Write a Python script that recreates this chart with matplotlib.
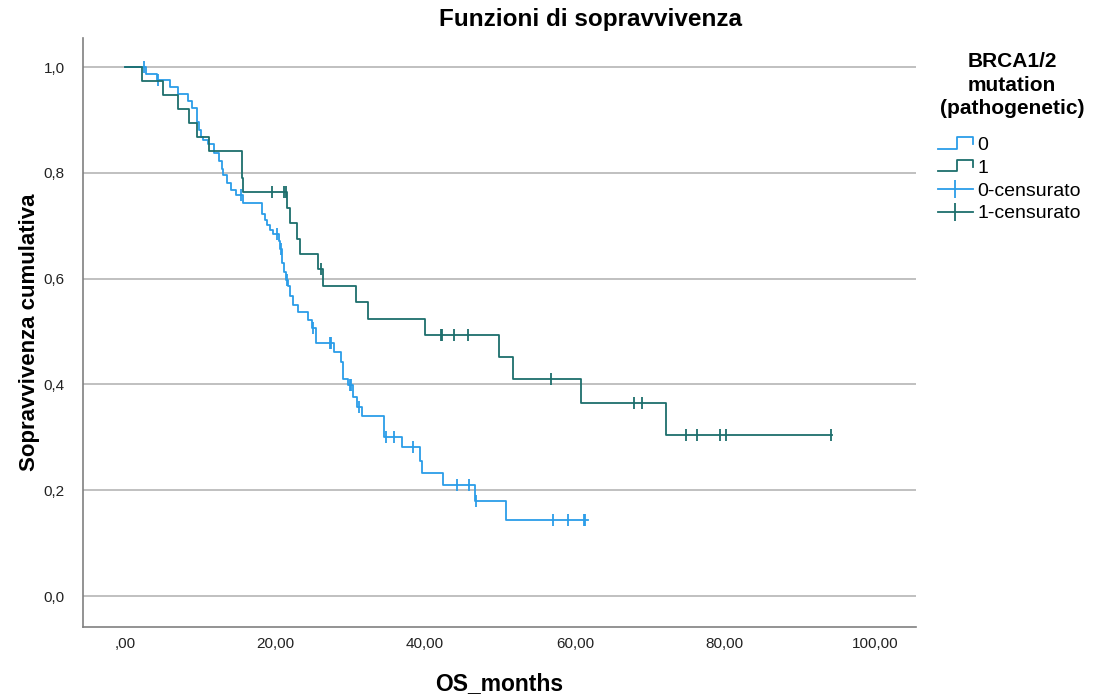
import numpy as np
import matplotlib
matplotlib.use('Agg')
import matplotlib.pyplot as plt
from matplotlib.lines import Line2D
from matplotlib.legend_handler import HandlerBase

plt.rcParams['font.family'] = ['Liberation Sans', 'DejaVu Sans']

# group 0 (no mutation): event times and survival after each event
times0 = [0, 2.8, 4.2, 6.0, 7.1, 8.4, 8.9, 9.6, 9.9, 10.1, 10.4, 11.1, 11.9, 12.6,
          12.9, 13.1, 13.6, 14.1, 14.8, 15.8, 18.3, 18.7, 19.0, 19.4, 19.8, 20.6,
          20.7, 21.0, 21.2, 21.5, 21.8, 22.0, 22.4, 23.1, 24.4, 25.0, 25.5, 27.9,
          28.8, 29.1, 29.8, 30.4, 31.0, 31.6, 34.5, 36.9, 39.4, 39.6, 42.4, 46.7,
          50.8]
surv0 = [1.0, 0.987, 0.975, 0.962, 0.949, 0.936, 0.922, 0.896, 0.880, 0.868, 0.862,
         0.855, 0.838, 0.822, 0.808, 0.795, 0.781, 0.768, 0.758, 0.742, 0.723, 0.711,
         0.701, 0.692, 0.684, 0.672, 0.656, 0.630, 0.613, 0.598, 0.586, 0.567, 0.550,
         0.537, 0.522, 0.506, 0.478, 0.462, 0.443, 0.410, 0.399, 0.377, 0.358, 0.340,
         0.301, 0.281, 0.255, 0.233, 0.210, 0.180, 0.144]
end0 = 61.7
cens0 = [2.5, 4.4, 15.5, 20.3, 20.8, 21.6, 25.1, 27.3, 27.5, 30.0, 30.2, 31.2, 34.8,
         35.9, 38.4, 44.3, 45.9, 46.8, 57.1, 59.1, 61.2, 61.4]

# group 1 (pathogenetic mutation)
times1 = [0, 2.3, 5.1, 7.1, 8.5, 9.6, 11.2, 15.6, 15.8, 21.6, 22.0, 23.0, 23.3, 25.8,
          26.4, 30.8, 32.4, 40.0, 49.9, 51.7, 60.8, 72.1]
surv1 = [1.0, 0.974, 0.947, 0.921, 0.895, 0.868, 0.842, 0.790, 0.763, 0.733, 0.706,
         0.674, 0.646, 0.618, 0.586, 0.555, 0.523, 0.493, 0.451, 0.410, 0.364, 0.304]
end1 = 94.3
cens1 = [19.6, 21.2, 21.5, 26.1, 42.1, 42.3, 43.9, 45.8, 56.8, 67.9, 69.0, 74.8,
         76.3, 79.3, 80.2, 94.2]

col0 = '#2b9de8'
col1 = '#1d6e6c'

xticks = [0, 20, 40, 60, 80, 100]
xlabels = [',00', '20,00', '40,00', '60,00', '80,00', '100,00']
yticks = [0.0, 0.2, 0.4, 0.6, 0.8, 1.0]
ylabels = ['0,0', '0,2', '0,4', '0,6', '0,8', '1,0']


def surv_at(times, surv, t):
    idx = np.searchsorted(times, t, side='right') - 1
    return np.array(surv)[idx]


class StepHandler(HandlerBase):
    def create_artists(self, legend, orig_handle, xdescent, ydescent,
                       width, height, fontsize, trans):
        x0 = -xdescent
        y0 = -ydescent
        xs = [x0, x0 + width * 0.55, x0 + width * 0.55, x0 + width, x0 + width]
        ys = [y0 + height * 0.1, y0 + height * 0.1, y0 + height * 0.95,
              y0 + height * 0.95, y0 + height * 0.45]
        ln = Line2D(xs, ys, color=orig_handle.get_color(), lw=1.3, transform=trans)
        return [ln]


fig = plt.figure(figsize=(10.94, 6.99), dpi=100)
ax = fig.add_axes([0.0759, 0.103, 0.7614, 0.8426])

for times, surv, end, cens, col, z in [(times0, surv0, end0, cens0, col0, 2),
                                       (times1, surv1, end1, cens1, col1, 3)]:
    xs = list(times) + [end]
    ys = list(surv) + [surv[-1]]
    ax.step(xs, ys, where='post', color=col, lw=1.3, zorder=z)
    ax.plot(cens, surv_at(times, surv, cens), linestyle='none', marker='|',
            markersize=9, markeredgewidth=1.3, color=col, zorder=z)

ax.set_xlim(-5.6, 105.5)
ax.set_ylim(-0.0586, 1.0548)
ax.set_xticks(xticks)
ax.set_xticklabels(xlabels)
ax.set_yticks(yticks)
ax.set_yticklabels(ylabels)
ax.tick_params(length=0, labelsize=11, colors='#222222')
ax.tick_params(axis='x', pad=7)
ax.tick_params(axis='y', pad=13)
ax.grid(axis='y', color='#c0c0c0', lw=1.4, zorder=0)
ax.set_axisbelow(True)
for s in ['top', 'right']:
    ax.spines[s].set_visible(False)
for s in ['left', 'bottom']:
    ax.spines[s].set_color('#808080')
    ax.spines[s].set_linewidth(1.2)

fig.text(0.54, 0.972, 'Funzioni di sopravvivenza', ha='center', va='center',
         fontsize=17.5, fontweight='bold')
ax.set_xlabel('OS_months', fontsize=16.5, fontweight='bold', labelpad=15)
ax.set_ylabel('Sopravvivenza cumulativa', fontsize=16, fontweight='bold', labelpad=3)

h0 = Line2D([], [], color=col0)
h1 = Line2D([], [], color=col1)
hc0 = Line2D([], [], color=col0, lw=1.3, marker='|', markersize=13, markeredgewidth=1.3)
hc1 = Line2D([], [], color=col1, lw=1.3, marker='|', markersize=13, markeredgewidth=1.3)
fig.text(0.925, 0.926, 'BRCA1/2\nmutation\n(pathogenetic)', ha='center', va='top',
         fontsize=15, fontweight='bold', linespacing=1.32)
fig.legend([h0, h1, hc0, hc1], ['0', '1', '0-censurato', '1-censurato'],
           handler_map={h0: StepHandler(), h1: StepHandler()},
           loc='upper left', bbox_to_anchor=(0.857, 0.805), frameon=False,
           fontsize=14, handlelength=1.8, handletextpad=0.25, labelspacing=0.27,
           borderaxespad=0, borderpad=0)

fig.savefig('out.png', dpi=100)
